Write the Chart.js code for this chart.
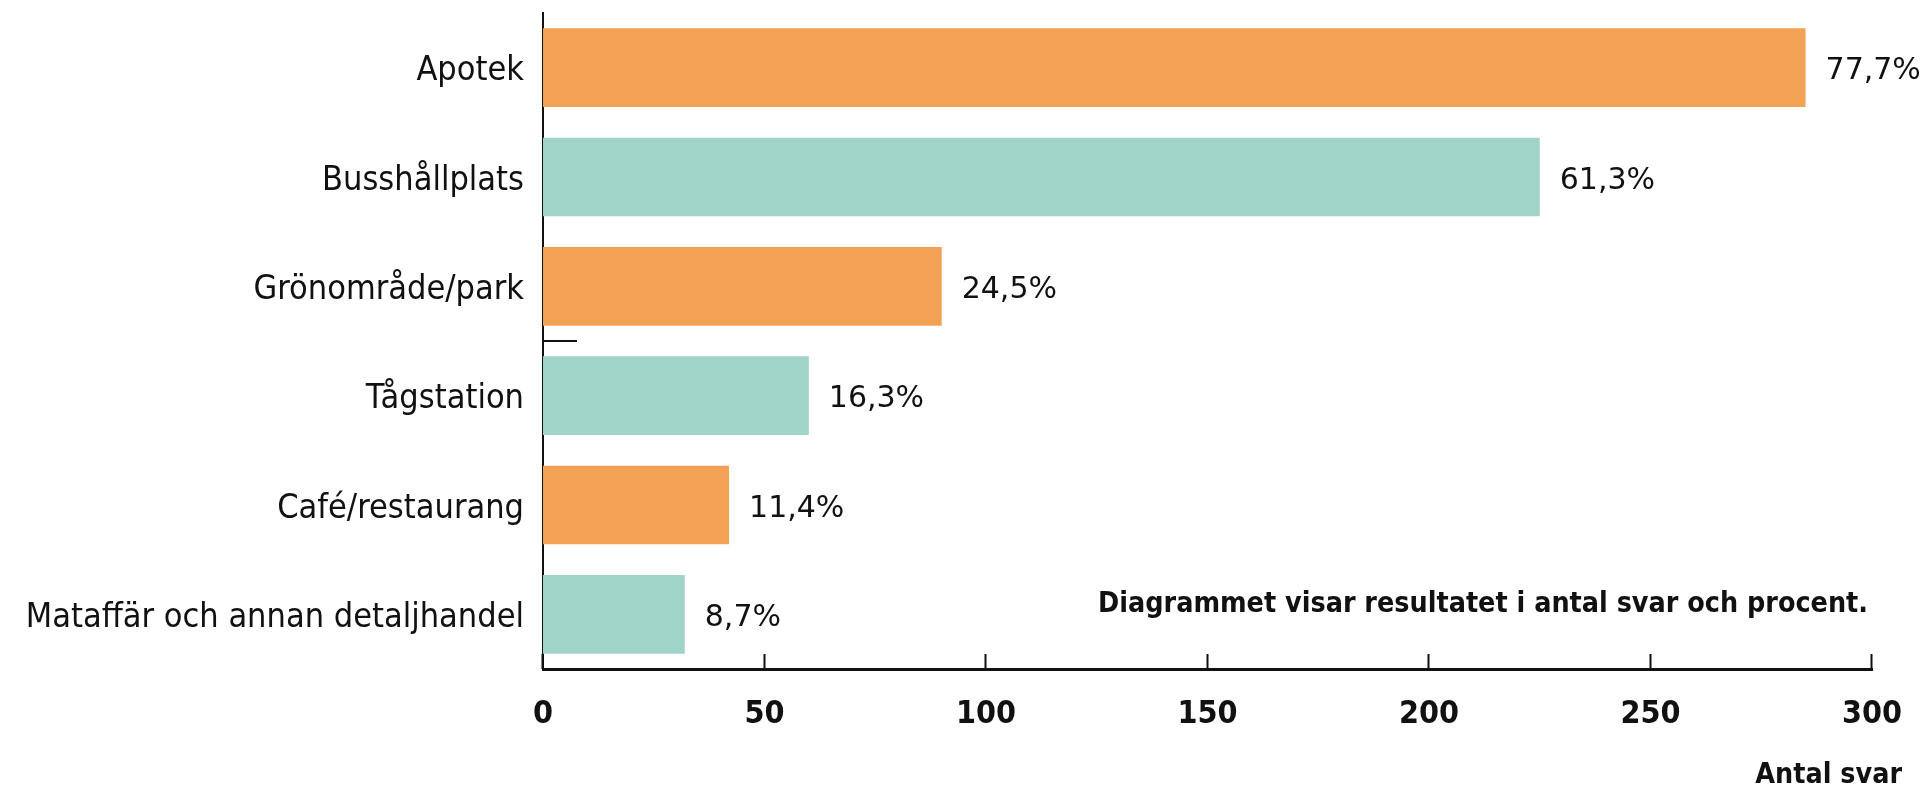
<!DOCTYPE html>
<html lang="sv">
<head>
<meta charset="utf-8">
<title>Antal svar</title>
<script src="https://cdn.jsdelivr.net/npm/chart.js@4.4.1/dist/chart.umd.min.js"></script>
<style>
  html, body { margin: 0; padding: 0; background: #fff; }
  #chartCanvas { display: block; }
</style>
</head>
<body>
<canvas id="chartCanvas" width="1927" height="789"></canvas>
<script>
var categories = ['Apotek', 'Busshållplats', 'Grönområde/park', 'Tågstation', 'Café/restaurang', 'Mataffär och annan detaljhandel'];
var answerCounts = [285, 225, 90, 60, 42, 32];
var answerPercents = [77.7, 61.3, 24.5, 16.3, 11.4, 8.7];
var xTicks = [0, 50, 100, 150, 200, 250, 300];
var noteText = 'Diagrammet visar resultatet i antal svar och procent.';
var axisTitle = 'Antal svar';

(function() {
  'use strict';

  var ORANGE = '#F3A154';
  var TEAL = '#A0D4C8';
  var INK = '#111111';
  var LABEL_FONT = '"DejaVu Sans Condensed", "DejaVu Sans", sans-serif';

  function formatPercent(v) {
    return v.toFixed(1).replace('.', ',') + '%';
  }

  // percent labels, inward ticks and the loose notes
  var extrasPlugin = {
    id: 'extras',
    afterDatasetsDraw: function(chart) {
      var ctx = chart.ctx;
      var meta = chart.getDatasetMeta(0);
      ctx.save();
      ctx.fillStyle = INK;
      ctx.font = '30px "DejaVu Sans", sans-serif';
      ctx.textAlign = 'left';
      ctx.textBaseline = 'middle';
      meta.data.forEach(function(bar, i) {
        ctx.fillText(formatPercent(answerPercents[i]), bar.x + 20, bar.y + 4);
      });
      ctx.restore();
    },
    afterDraw: function(chart) {
      var ctx = chart.ctx;
      var area = chart.chartArea;
      var xScale = chart.scales.x;
      var yScale = chart.scales.y;

      ctx.save();
      ctx.strokeStyle = INK;
      ctx.lineWidth = 2;
      ctx.beginPath();
      xTicks.forEach(function(t) {
        var px = Math.round(xScale.getPixelForValue(t)) - 0.5;
        ctx.moveTo(px, area.bottom);
        ctx.lineTo(px, area.bottom - 15);
      });
      // small stray tick between the third and fourth category
      var midY = Math.round((yScale.getPixelForValue(2) + yScale.getPixelForValue(3)) / 2);
      ctx.moveTo(area.left, midY);
      ctx.lineTo(area.left + 34, midY);
      ctx.stroke();

      ctx.fillStyle = INK;
      ctx.font = 'bold 28.4px ' + LABEL_FONT;
      ctx.textAlign = 'right';
      ctx.textBaseline = 'middle';
      ctx.fillText(noteText, area.right - 4, area.bottom - 64);
      ctx.fillText(axisTitle, chart.width - 25, chart.height - 13);
      ctx.restore();
    }
  };

  function init() {
    var canvas = document.getElementById('chartCanvas');
    var ctx = canvas.getContext('2d');

    new Chart(ctx, {
      type: 'bar',
      data: {
        labels: categories,
        datasets: [{
          label: 'Antal svar',
          data: answerCounts,
          backgroundColor: categories.map(function(c, i) { return i % 2 === 0 ? ORANGE : TEAL; }),
          borderWidth: 0,
          categoryPercentage: 0.72,
          barPercentage: 1
        }]
      },
      options: {
        indexAxis: 'y',
        responsive: false,
        animation: false,
        layout: { padding: { left: 0, top: 13, right: 55, bottom: 0 } },
        plugins: {
          legend: { display: false },
          tooltip: { enabled: false }
        },
        scales: {
          x: {
            min: 0,
            max: 300,
            afterBuildTicks: function(scale) {
              scale.ticks = xTicks.map(function(v) { return { value: v }; });
            },
            afterFit: function(scale) {
              scale.height = 120;
              scale.paddingLeft = 0;
              scale.paddingRight = 0;
            },
            grid: { display: false, drawTicks: false },
            border: { display: true, color: INK, width: 3 },
            ticks: {
              color: INK,
              padding: 26,
              maxRotation: 0,
              font: { family: LABEL_FONT, size: 32, weight: 'bold' }
            }
          },
          y: {
            afterFit: function(scale) {
              scale.width = 543;
              scale.paddingTop = 0;
              scale.paddingBottom = 0;
            },
            grid: { display: false, drawTicks: false },
            border: { display: true, color: INK, width: 2 },
            ticks: {
              color: INK,
              padding: 19,
              labelOffset: 4,
              font: { family: LABEL_FONT, size: 34 }
            }
          }
        }
      },
      plugins: [extrasPlugin]
    });
  }

  document.addEventListener('DOMContentLoaded', init);
})();
</script>
</body>
</html>
